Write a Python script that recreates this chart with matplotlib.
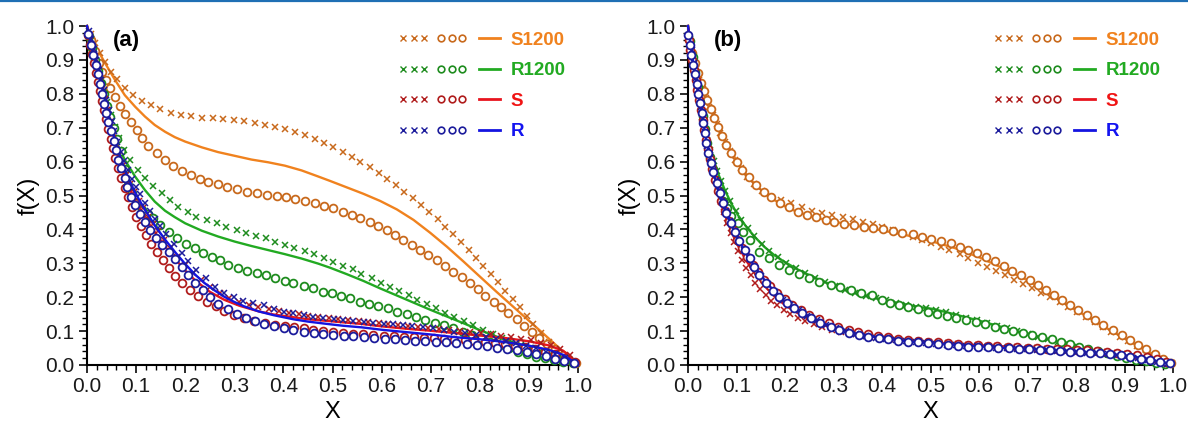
import matplotlib
matplotlib.use("Agg")
import matplotlib.pyplot as plt
from matplotlib.lines import Line2D
from matplotlib.legend_handler import HandlerTuple, HandlerLine2D
from matplotlib.ticker import MultipleLocator

plt.rcParams['font.family'] = ['Liberation Sans', 'DejaVu Sans']

SERIES = ['S1200', 'R1200', 'S', 'R']
MARKER_COLORS = {'S1200': '#c8691c', 'R1200': '#1e8c1e', 'S': '#b01c1c', 'R': '#1c1c9c'}
LINE_COLORS = {'S1200': '#f0821e', 'R1200': '#22aa22', 'S': '#e8141e', 'R': '#1414e0'}
TEXT_COLORS = {'S1200': '#f0821e', 'R1200': '#22aa22', 'S': '#f01414', 'R': '#1414f0'}

# ---------------- panel (a) ----------------
a_s1200_x_X = [0.008, 0.016, 0.026, 0.037, 0.049, 0.062, 0.077, 0.094, 0.111, 0.130, 0.149, 0.171, 0.191, 0.212, 0.234, 0.256, 0.278, 0.299, 0.320, 0.342, 0.363, 0.383, 0.403, 0.424, 0.444, 0.464, 0.483, 0.502, 0.521, 0.539, 0.557, 0.576, 0.595, 0.612, 0.629, 0.646, 0.663, 0.680, 0.697, 0.714, 0.730, 0.746, 0.762, 0.778, 0.792, 0.807, 0.822, 0.838, 0.852, 0.867, 0.881, 0.896, 0.909, 0.924, 0.940, 0.955, 0.970, 0.984]
a_s1200_x_Y = [0.975, 0.949, 0.919, 0.895, 0.865, 0.843, 0.818, 0.796, 0.780, 0.766, 0.755, 0.742, 0.737, 0.735, 0.730, 0.728, 0.727, 0.723, 0.720, 0.715, 0.709, 0.703, 0.695, 0.686, 0.677, 0.668, 0.656, 0.644, 0.629, 0.615, 0.600, 0.583, 0.567, 0.549, 0.531, 0.511, 0.492, 0.472, 0.450, 0.430, 0.408, 0.385, 0.362, 0.339, 0.317, 0.292, 0.268, 0.244, 0.219, 0.195, 0.170, 0.146, 0.121, 0.093, 0.069, 0.044, 0.025, 0.010]
a_s1200_o_X = [0.008, 0.016, 0.024, 0.031, 0.038, 0.047, 0.057, 0.067, 0.077, 0.089, 0.101, 0.113, 0.125, 0.142, 0.159, 0.176, 0.193, 0.212, 0.230, 0.247, 0.266, 0.286, 0.305, 0.325, 0.346, 0.366, 0.386, 0.405, 0.424, 0.444, 0.464, 0.483, 0.502, 0.521, 0.539, 0.557, 0.576, 0.593, 0.610, 0.627, 0.644, 0.661, 0.678, 0.695, 0.712, 0.729, 0.746, 0.763, 0.780, 0.796, 0.811, 0.828, 0.843, 0.858, 0.875, 0.891, 0.906, 0.921, 0.937, 0.953, 0.969, 0.982, 0.996]
a_s1200_o_Y = [0.960, 0.925, 0.890, 0.865, 0.841, 0.816, 0.790, 0.764, 0.740, 0.716, 0.693, 0.669, 0.646, 0.624, 0.605, 0.588, 0.573, 0.560, 0.549, 0.539, 0.533, 0.526, 0.518, 0.511, 0.506, 0.501, 0.499, 0.495, 0.489, 0.484, 0.477, 0.470, 0.462, 0.452, 0.442, 0.433, 0.423, 0.411, 0.398, 0.383, 0.369, 0.354, 0.339, 0.324, 0.310, 0.292, 0.275, 0.259, 0.241, 0.223, 0.205, 0.187, 0.170, 0.152, 0.135, 0.115, 0.098, 0.079, 0.062, 0.046, 0.029, 0.015, 0.005]
a_s1200_l_X = [0.0, 0.006, 0.016, 0.037, 0.057, 0.077, 0.098, 0.118, 0.138, 0.159, 0.179, 0.200, 0.234, 0.267, 0.301, 0.335, 0.369, 0.403, 0.437, 0.471, 0.495, 0.529, 0.563, 0.597, 0.631, 0.665, 0.699, 0.733, 0.767, 0.800, 0.834, 0.868, 0.902, 0.936, 0.970, 1.0]
a_s1200_l_Y = [1.0, 0.978, 0.944, 0.890, 0.841, 0.796, 0.762, 0.733, 0.708, 0.688, 0.672, 0.659, 0.642, 0.628, 0.617, 0.606, 0.598, 0.588, 0.574, 0.556, 0.543, 0.524, 0.505, 0.484, 0.459, 0.428, 0.390, 0.349, 0.305, 0.261, 0.216, 0.172, 0.128, 0.084, 0.039, 0.0]

a_r1200_x_X = [0.006, 0.013, 0.020, 0.026, 0.033, 0.040, 0.049, 0.057, 0.066, 0.076, 0.088, 0.103, 0.118, 0.135, 0.152, 0.169, 0.186, 0.205, 0.223, 0.244, 0.264, 0.284, 0.305, 0.324, 0.344, 0.364, 0.383, 0.403, 0.422, 0.443, 0.463, 0.483, 0.502, 0.522, 0.541, 0.559, 0.580, 0.598, 0.617, 0.636, 0.655, 0.673, 0.692, 0.711, 0.729, 0.748, 0.767, 0.787, 0.806, 0.826, 0.845, 0.865, 0.883, 0.902, 0.921, 0.940, 0.959, 0.977, 0.996]
a_r1200_x_Y = [0.960, 0.919, 0.880, 0.841, 0.806, 0.777, 0.737, 0.703, 0.669, 0.634, 0.605, 0.575, 0.551, 0.528, 0.506, 0.487, 0.467, 0.452, 0.438, 0.428, 0.418, 0.408, 0.398, 0.390, 0.381, 0.374, 0.364, 0.354, 0.346, 0.336, 0.326, 0.317, 0.305, 0.292, 0.282, 0.268, 0.256, 0.243, 0.231, 0.218, 0.206, 0.192, 0.180, 0.167, 0.154, 0.143, 0.130, 0.118, 0.103, 0.091, 0.079, 0.069, 0.059, 0.049, 0.039, 0.029, 0.020, 0.010, 0.003]
a_r1200_o_X = [0.005, 0.011, 0.017, 0.023, 0.029, 0.035, 0.041, 0.047, 0.054, 0.061, 0.069, 0.077, 0.084, 0.091, 0.100, 0.113, 0.124, 0.135, 0.149, 0.166, 0.183, 0.202, 0.220, 0.237, 0.254, 0.271, 0.288, 0.308, 0.325, 0.346, 0.365, 0.383, 0.403, 0.420, 0.441, 0.461, 0.481, 0.498, 0.517, 0.536, 0.556, 0.575, 0.593, 0.614, 0.632, 0.651, 0.670, 0.688, 0.709, 0.727, 0.746, 0.765, 0.784, 0.802, 0.821, 0.841, 0.860, 0.878, 0.896, 0.914, 0.933, 0.951, 0.970, 0.990]
a_r1200_o_Y = [0.970, 0.935, 0.900, 0.866, 0.832, 0.798, 0.765, 0.732, 0.700, 0.666, 0.630, 0.578, 0.531, 0.506, 0.479, 0.457, 0.445, 0.433, 0.413, 0.393, 0.374, 0.357, 0.344, 0.331, 0.320, 0.310, 0.295, 0.285, 0.277, 0.272, 0.265, 0.256, 0.248, 0.241, 0.233, 0.226, 0.216, 0.211, 0.204, 0.197, 0.187, 0.180, 0.174, 0.167, 0.157, 0.150, 0.141, 0.133, 0.125, 0.118, 0.108, 0.098, 0.088, 0.079, 0.069, 0.059, 0.049, 0.039, 0.032, 0.025, 0.020, 0.015, 0.010, 0.005]
a_r1200_l_X = [0.0, 0.010, 0.020, 0.030, 0.037, 0.050, 0.064, 0.077, 0.098, 0.118, 0.138, 0.159, 0.179, 0.200, 0.234, 0.267, 0.301, 0.335, 0.369, 0.403, 0.437, 0.471, 0.495, 0.529, 0.563, 0.597, 0.631, 0.665, 0.699, 0.733, 0.767, 0.800, 0.834, 0.868, 0.902, 0.936, 0.970, 1.0]
a_r1200_l_Y = [1.0, 0.935, 0.872, 0.812, 0.772, 0.693, 0.644, 0.605, 0.556, 0.516, 0.482, 0.455, 0.436, 0.418, 0.396, 0.379, 0.364, 0.351, 0.339, 0.327, 0.314, 0.299, 0.287, 0.268, 0.248, 0.226, 0.205, 0.184, 0.163, 0.143, 0.123, 0.103, 0.084, 0.066, 0.049, 0.034, 0.020, 0.0]

a_s_x_X = [0.006, 0.011, 0.016, 0.021, 0.026, 0.031, 0.036, 0.041, 0.047, 0.053, 0.059, 0.066, 0.073, 0.080, 0.088, 0.096, 0.105, 0.114, 0.124, 0.134, 0.145, 0.157, 0.170, 0.184, 0.199, 0.215, 0.232, 0.251, 0.270, 0.290, 0.309, 0.329, 0.349, 0.370, 0.391, 0.411, 0.431, 0.451, 0.471, 0.492, 0.512, 0.532, 0.553, 0.573, 0.594, 0.614, 0.634, 0.654, 0.674, 0.695, 0.716, 0.737, 0.759, 0.781, 0.802, 0.823, 0.844, 0.864, 0.884, 0.905, 0.925, 0.944, 0.964, 0.983]
a_s_x_Y = [0.971, 0.942, 0.911, 0.879, 0.847, 0.815, 0.784, 0.753, 0.717, 0.684, 0.652, 0.620, 0.589, 0.561, 0.535, 0.510, 0.485, 0.462, 0.438, 0.417, 0.394, 0.370, 0.346, 0.320, 0.296, 0.272, 0.252, 0.229, 0.212, 0.198, 0.187, 0.178, 0.170, 0.164, 0.158, 0.153, 0.149, 0.145, 0.142, 0.139, 0.136, 0.133, 0.130, 0.127, 0.124, 0.121, 0.118, 0.115, 0.112, 0.109, 0.106, 0.103, 0.100, 0.097, 0.093, 0.090, 0.087, 0.082, 0.078, 0.073, 0.066, 0.058, 0.048, 0.030]
a_s_o_X = [0.002, 0.006, 0.010, 0.014, 0.018, 0.022, 0.026, 0.030, 0.034, 0.038, 0.043, 0.048, 0.053, 0.058, 0.064, 0.070, 0.077, 0.084, 0.092, 0.100, 0.110, 0.120, 0.131, 0.142, 0.154, 0.167, 0.180, 0.194, 0.210, 0.227, 0.244, 0.262, 0.280, 0.300, 0.320, 0.341, 0.362, 0.383, 0.403, 0.422, 0.441, 0.461, 0.481, 0.502, 0.522, 0.542, 0.563, 0.583, 0.604, 0.625, 0.645, 0.666, 0.686, 0.707, 0.728, 0.748, 0.769, 0.789, 0.810, 0.830, 0.851, 0.871, 0.892, 0.912, 0.933, 0.953, 0.974, 0.994]
a_s_o_Y = [0.972, 0.945, 0.918, 0.890, 0.862, 0.835, 0.808, 0.780, 0.753, 0.726, 0.697, 0.668, 0.640, 0.612, 0.582, 0.553, 0.523, 0.495, 0.466, 0.438, 0.410, 0.384, 0.358, 0.333, 0.309, 0.285, 0.263, 0.242, 0.222, 0.203, 0.187, 0.173, 0.160, 0.148, 0.138, 0.130, 0.124, 0.119, 0.115, 0.111, 0.108, 0.104, 0.100, 0.097, 0.094, 0.092, 0.090, 0.088, 0.087, 0.085, 0.084, 0.082, 0.081, 0.079, 0.077, 0.075, 0.073, 0.071, 0.068, 0.065, 0.062, 0.057, 0.052, 0.046, 0.039, 0.032, 0.022, 0.008]
a_s_l_X = [0.0, 0.01, 0.02, 0.03, 0.04, 0.05, 0.06, 0.07, 0.08, 0.09, 0.10, 0.12, 0.14, 0.16, 0.18, 0.20, 0.22, 0.25, 0.28, 0.31, 0.35, 0.38, 0.42, 0.45, 0.49, 0.52, 0.56, 0.60, 0.65, 0.70, 0.75, 0.80, 0.85, 0.90, 0.94, 0.97, 1.0]
a_s_l_Y = [1.0, 0.935, 0.870, 0.806, 0.744, 0.684, 0.630, 0.584, 0.543, 0.510, 0.480, 0.430, 0.388, 0.348, 0.312, 0.279, 0.250, 0.216, 0.192, 0.175, 0.158, 0.149, 0.141, 0.135, 0.130, 0.126, 0.121, 0.114, 0.107, 0.101, 0.094, 0.087, 0.080, 0.070, 0.058, 0.042, 0.0]

a_r_x_X = [0.004, 0.009, 0.014, 0.019, 0.024, 0.029, 0.034, 0.039, 0.044, 0.050, 0.056, 0.062, 0.069, 0.076, 0.083, 0.091, 0.099, 0.108, 0.118, 0.128, 0.138, 0.149, 0.161, 0.177, 0.193, 0.206, 0.223, 0.242, 0.261, 0.280, 0.299, 0.318, 0.339, 0.360, 0.381, 0.401, 0.420, 0.441, 0.461, 0.481, 0.503, 0.522, 0.542, 0.564, 0.583, 0.604, 0.624, 0.644, 0.661, 0.684, 0.705, 0.727, 0.748, 0.770, 0.792, 0.813, 0.833, 0.854, 0.874, 0.894, 0.915, 0.935, 0.953, 0.974, 0.992]
a_r_x_Y = [0.985, 0.961, 0.931, 0.901, 0.871, 0.841, 0.811, 0.781, 0.751, 0.720, 0.689, 0.659, 0.628, 0.601, 0.575, 0.549, 0.526, 0.503, 0.478, 0.455, 0.432, 0.410, 0.386, 0.357, 0.330, 0.307, 0.280, 0.256, 0.230, 0.212, 0.201, 0.190, 0.182, 0.176, 0.164, 0.157, 0.152, 0.147, 0.142, 0.139, 0.135, 0.132, 0.129, 0.127, 0.124, 0.122, 0.120, 0.117, 0.115, 0.113, 0.108, 0.103, 0.098, 0.093, 0.088, 0.083, 0.078, 0.071, 0.064, 0.056, 0.049, 0.039, 0.032, 0.020, 0.007]
a_r_o_X = [0.003, 0.008, 0.013, 0.018, 0.022, 0.027, 0.031, 0.035, 0.039, 0.043, 0.048, 0.054, 0.059, 0.064, 0.070, 0.077, 0.082, 0.090, 0.098, 0.108, 0.118, 0.128, 0.140, 0.152, 0.166, 0.179, 0.193, 0.206, 0.220, 0.236, 0.251, 0.267, 0.287, 0.305, 0.324, 0.342, 0.361, 0.381, 0.401, 0.420, 0.441, 0.462, 0.481, 0.502, 0.523, 0.542, 0.564, 0.585, 0.607, 0.627, 0.648, 0.668, 0.688, 0.711, 0.731, 0.752, 0.773, 0.794, 0.814, 0.835, 0.855, 0.875, 0.896, 0.915, 0.935, 0.953, 0.972, 0.992]
a_r_o_Y = [0.975, 0.944, 0.914, 0.885, 0.858, 0.829, 0.800, 0.770, 0.744, 0.718, 0.691, 0.662, 0.634, 0.605, 0.580, 0.551, 0.524, 0.497, 0.472, 0.445, 0.423, 0.398, 0.374, 0.354, 0.333, 0.312, 0.290, 0.266, 0.243, 0.221, 0.201, 0.181, 0.164, 0.150, 0.139, 0.130, 0.122, 0.116, 0.108, 0.103, 0.098, 0.095, 0.091, 0.089, 0.087, 0.085, 0.083, 0.081, 0.078, 0.076, 0.074, 0.072, 0.071, 0.069, 0.067, 0.064, 0.061, 0.059, 0.056, 0.051, 0.047, 0.044, 0.039, 0.032, 0.026, 0.019, 0.013, 0.007]
a_r_l_X = [0.0, 0.01, 0.02, 0.03, 0.04, 0.05, 0.06, 0.07, 0.08, 0.09, 0.10, 0.12, 0.14, 0.16, 0.18, 0.20, 0.22, 0.24, 0.26, 0.28, 0.30, 0.32, 0.35, 0.38, 0.42, 0.45, 0.49, 0.52, 0.56, 0.60, 0.65, 0.70, 0.75, 0.80, 0.85, 0.90, 0.94, 0.97, 1.0]
a_r_l_Y = [1.0, 0.94, 0.88, 0.82, 0.76, 0.70, 0.648, 0.604, 0.565, 0.532, 0.503, 0.453, 0.408, 0.368, 0.332, 0.298, 0.267, 0.241, 0.220, 0.201, 0.186, 0.173, 0.158, 0.147, 0.135, 0.128, 0.121, 0.116, 0.111, 0.104, 0.097, 0.090, 0.082, 0.076, 0.068, 0.057, 0.045, 0.030, 0.0]

# ---------------- panel (b) ----------------
b_s1200_x_X = [0.006, 0.011, 0.017, 0.023, 0.030, 0.037, 0.044, 0.051, 0.059, 0.067, 0.076, 0.086, 0.097, 0.109, 0.122, 0.136, 0.152, 0.172, 0.192, 0.213, 0.236, 0.256, 0.277, 0.297, 0.320, 0.340, 0.361, 0.381, 0.401, 0.422, 0.442, 0.463, 0.482, 0.500, 0.521, 0.539, 0.560, 0.578, 0.597, 0.616, 0.635, 0.653, 0.672, 0.691, 0.709, 0.728, 0.747, 0.766, 0.784, 0.803, 0.821, 0.839, 0.856, 0.873, 0.890, 0.908, 0.926, 0.944, 0.962, 0.980, 0.998]
b_s1200_x_Y = [0.940, 0.905, 0.872, 0.842, 0.815, 0.788, 0.762, 0.736, 0.710, 0.684, 0.658, 0.632, 0.606, 0.580, 0.556, 0.533, 0.513, 0.497, 0.487, 0.477, 0.465, 0.455, 0.449, 0.442, 0.436, 0.430, 0.423, 0.416, 0.408, 0.398, 0.388, 0.379, 0.369, 0.361, 0.349, 0.339, 0.326, 0.315, 0.302, 0.288, 0.278, 0.265, 0.251, 0.239, 0.226, 0.213, 0.200, 0.185, 0.170, 0.155, 0.141, 0.126, 0.111, 0.098, 0.084, 0.071, 0.056, 0.044, 0.029, 0.017, 0.005]
b_s1200_o_X = [0.009, 0.014, 0.020, 0.027, 0.033, 0.040, 0.047, 0.054, 0.062, 0.070, 0.079, 0.089, 0.100, 0.111, 0.125, 0.140, 0.156, 0.172, 0.190, 0.209, 0.226, 0.245, 0.263, 0.284, 0.302, 0.322, 0.342, 0.362, 0.382, 0.403, 0.423, 0.442, 0.463, 0.482, 0.502, 0.522, 0.543, 0.560, 0.577, 0.596, 0.614, 0.633, 0.652, 0.669, 0.686, 0.705, 0.721, 0.739, 0.755, 0.771, 0.788, 0.805, 0.822, 0.839, 0.856, 0.876, 0.894, 0.911, 0.928, 0.945, 0.962, 0.979, 0.996]
b_s1200_o_Y = [0.919, 0.890, 0.860, 0.833, 0.808, 0.782, 0.754, 0.728, 0.701, 0.676, 0.649, 0.624, 0.600, 0.575, 0.554, 0.531, 0.511, 0.495, 0.479, 0.465, 0.452, 0.442, 0.436, 0.428, 0.423, 0.416, 0.413, 0.408, 0.403, 0.400, 0.396, 0.390, 0.386, 0.379, 0.373, 0.367, 0.359, 0.349, 0.339, 0.329, 0.318, 0.307, 0.292, 0.278, 0.265, 0.251, 0.236, 0.221, 0.207, 0.192, 0.177, 0.162, 0.147, 0.132, 0.118, 0.103, 0.088, 0.074, 0.059, 0.046, 0.032, 0.017, 0.005]
b_s1200_l_X = [0.0, 0.01, 0.02, 0.03, 0.04, 0.05, 0.06, 0.07, 0.08, 0.09, 0.10, 0.12, 0.14, 0.16, 0.18, 0.20, 0.22, 0.25, 0.28, 0.30, 0.35, 0.40, 0.45, 0.50, 0.55, 0.60, 0.65, 0.70, 0.75, 0.80, 0.85, 0.90, 0.95, 1.0]
b_s1200_l_Y = [1.0, 0.92, 0.865, 0.82, 0.78, 0.745, 0.712, 0.682, 0.653, 0.627, 0.603, 0.562, 0.530, 0.505, 0.485, 0.468, 0.455, 0.440, 0.429, 0.423, 0.410, 0.397, 0.383, 0.366, 0.345, 0.318, 0.285, 0.250, 0.205, 0.162, 0.120, 0.078, 0.038, 0.0]

b_r1200_x_X = [0.004, 0.009, 0.014, 0.019, 0.024, 0.029, 0.034, 0.040, 0.046, 0.053, 0.060, 0.068, 0.077, 0.087, 0.098, 0.110, 0.123, 0.137, 0.152, 0.168, 0.185, 0.203, 0.222, 0.242, 0.262, 0.283, 0.303, 0.324, 0.345, 0.366, 0.387, 0.408, 0.428, 0.449, 0.470, 0.490, 0.511, 0.532, 0.553, 0.574, 0.595, 0.616, 0.637, 0.658, 0.679, 0.700, 0.721, 0.742, 0.762, 0.783, 0.804, 0.825, 0.846, 0.866, 0.887, 0.908, 0.929, 0.950, 0.970, 0.990]
b_r1200_x_Y = [0.962, 0.915, 0.868, 0.820, 0.775, 0.733, 0.699, 0.665, 0.634, 0.602, 0.573, 0.544, 0.514, 0.483, 0.454, 0.428, 0.403, 0.380, 0.358, 0.337, 0.318, 0.302, 0.286, 0.272, 0.258, 0.245, 0.233, 0.222, 0.213, 0.205, 0.198, 0.191, 0.184, 0.178, 0.172, 0.167, 0.161, 0.155, 0.148, 0.140, 0.132, 0.124, 0.116, 0.108, 0.100, 0.092, 0.084, 0.076, 0.069, 0.061, 0.053, 0.046, 0.038, 0.031, 0.024, 0.018, 0.013, 0.008, 0.005, 0.002]
b_r1200_o_X = [0.005, 0.010, 0.015, 0.020, 0.025, 0.030, 0.035, 0.040, 0.046, 0.052, 0.058, 0.065, 0.072, 0.080, 0.089, 0.103, 0.113, 0.127, 0.147, 0.168, 0.188, 0.209, 0.229, 0.249, 0.270, 0.294, 0.314, 0.337, 0.357, 0.379, 0.399, 0.417, 0.435, 0.454, 0.474, 0.494, 0.514, 0.535, 0.553, 0.573, 0.594, 0.612, 0.633, 0.651, 0.671, 0.691, 0.709, 0.730, 0.751, 0.769, 0.788, 0.807, 0.825, 0.846, 0.864, 0.884, 0.904, 0.923, 0.944, 0.964, 0.983]
b_r1200_o_Y = [0.955, 0.910, 0.865, 0.820, 0.775, 0.735, 0.695, 0.655, 0.615, 0.578, 0.545, 0.512, 0.485, 0.462, 0.440, 0.418, 0.393, 0.369, 0.334, 0.315, 0.295, 0.280, 0.268, 0.256, 0.246, 0.236, 0.229, 0.221, 0.211, 0.206, 0.192, 0.184, 0.177, 0.170, 0.164, 0.157, 0.150, 0.145, 0.140, 0.133, 0.126, 0.121, 0.113, 0.106, 0.101, 0.093, 0.088, 0.083, 0.076, 0.069, 0.062, 0.054, 0.047, 0.041, 0.034, 0.027, 0.022, 0.014, 0.011, 0.007, 0.004]
b_r1200_l_X = [0.0, 0.01, 0.02, 0.03, 0.035, 0.048, 0.062, 0.076, 0.089, 0.103, 0.120, 0.137, 0.157, 0.178, 0.198, 0.226, 0.253, 0.280, 0.307, 0.335, 0.362, 0.389, 0.417, 0.444, 0.471, 0.502, 0.529, 0.597, 0.665, 0.734, 0.802, 0.870, 0.938, 1.0]
b_r1200_l_Y = [1.0, 0.905, 0.81, 0.725, 0.693, 0.624, 0.565, 0.516, 0.477, 0.442, 0.408, 0.379, 0.349, 0.324, 0.305, 0.282, 0.263, 0.246, 0.231, 0.216, 0.206, 0.197, 0.187, 0.179, 0.172, 0.166, 0.157, 0.132, 0.105, 0.079, 0.054, 0.029, 0.010, 0.0]

b_s_x_X = [0.004, 0.008, 0.012, 0.016, 0.020, 0.024, 0.028, 0.032, 0.036, 0.041, 0.046, 0.051, 0.056, 0.062, 0.068, 0.074, 0.081, 0.088, 0.095, 0.103, 0.111, 0.120, 0.129, 0.139, 0.149, 0.160, 0.172, 0.184, 0.197, 0.211, 0.226, 0.242, 0.259, 0.277, 0.296, 0.316, 0.336, 0.356, 0.376, 0.396, 0.416, 0.436, 0.456, 0.476, 0.496, 0.516, 0.536, 0.556, 0.577, 0.597, 0.618, 0.638, 0.659, 0.679, 0.700, 0.720, 0.741, 0.761, 0.782, 0.802, 0.823, 0.843, 0.864, 0.884, 0.905, 0.925, 0.946, 0.966, 0.986]
b_s_x_Y = [0.950, 0.915, 0.880, 0.847, 0.814, 0.782, 0.750, 0.719, 0.688, 0.650, 0.614, 0.580, 0.548, 0.512, 0.480, 0.450, 0.418, 0.390, 0.364, 0.336, 0.311, 0.287, 0.265, 0.243, 0.225, 0.207, 0.190, 0.176, 0.162, 0.150, 0.139, 0.129, 0.120, 0.112, 0.104, 0.097, 0.092, 0.087, 0.083, 0.080, 0.077, 0.075, 0.072, 0.070, 0.068, 0.066, 0.064, 0.062, 0.060, 0.058, 0.057, 0.055, 0.054, 0.052, 0.051, 0.049, 0.048, 0.046, 0.045, 0.043, 0.041, 0.039, 0.037, 0.034, 0.031, 0.027, 0.022, 0.015, 0.007]
b_s_o_X = [0.002, 0.005, 0.009, 0.012, 0.016, 0.019, 0.023, 0.026, 0.030, 0.033, 0.037, 0.041, 0.045, 0.050, 0.056, 0.062, 0.069, 0.076, 0.084, 0.093, 0.102, 0.112, 0.122, 0.133, 0.144, 0.157, 0.170, 0.184, 0.199, 0.215, 0.232, 0.250, 0.270, 0.290, 0.310, 0.331, 0.351, 0.372, 0.392, 0.413, 0.433, 0.454, 0.474, 0.495, 0.515, 0.536, 0.556, 0.577, 0.597, 0.618, 0.638, 0.659, 0.679, 0.700, 0.720, 0.741, 0.761, 0.782, 0.802, 0.823, 0.843, 0.864, 0.884, 0.905, 0.925, 0.946, 0.966, 0.986]
b_s_o_Y = [0.960, 0.930, 0.900, 0.870, 0.840, 0.811, 0.781, 0.752, 0.723, 0.694, 0.664, 0.636, 0.607, 0.577, 0.545, 0.514, 0.484, 0.455, 0.426, 0.398, 0.370, 0.344, 0.320, 0.296, 0.274, 0.252, 0.232, 0.213, 0.195, 0.178, 0.163, 0.148, 0.135, 0.123, 0.113, 0.104, 0.097, 0.091, 0.086, 0.082, 0.078, 0.075, 0.072, 0.069, 0.067, 0.065, 0.062, 0.060, 0.058, 0.057, 0.055, 0.054, 0.052, 0.051, 0.050, 0.048, 0.047, 0.046, 0.045, 0.043, 0.041, 0.039, 0.036, 0.033, 0.029, 0.024, 0.017, 0.009]
b_s_l_X = [0.0, 0.01, 0.02, 0.03, 0.04, 0.05, 0.06, 0.07, 0.08, 0.09, 0.10, 0.12, 0.14, 0.16, 0.18, 0.20, 0.22, 0.25, 0.28, 0.30, 0.35, 0.40, 0.45, 0.50, 0.55, 0.60, 0.65, 0.70, 0.75, 0.80, 0.85, 0.90, 0.95, 1.0]
b_s_l_Y = [1.0, 0.895, 0.80, 0.715, 0.632, 0.565, 0.512, 0.468, 0.428, 0.392, 0.360, 0.308, 0.266, 0.230, 0.200, 0.177, 0.158, 0.136, 0.118, 0.108, 0.090, 0.079, 0.072, 0.066, 0.062, 0.058, 0.055, 0.051, 0.048, 0.045, 0.040, 0.034, 0.024, 0.0]

b_r_x_X = [0.003, 0.008, 0.012, 0.017, 0.021, 0.026, 0.030, 0.035, 0.040, 0.045, 0.051, 0.057, 0.064, 0.071, 0.079, 0.087, 0.096, 0.106, 0.116, 0.127, 0.139, 0.151, 0.165, 0.179, 0.195, 0.211, 0.228, 0.246, 0.265, 0.285, 0.305, 0.326, 0.346, 0.367, 0.388, 0.408, 0.429, 0.450, 0.470, 0.491, 0.512, 0.533, 0.553, 0.574, 0.595, 0.616, 0.636, 0.657, 0.678, 0.699, 0.719, 0.740, 0.761, 0.782, 0.802, 0.823, 0.844, 0.865, 0.885, 0.906, 0.927, 0.948, 0.968, 0.988]
b_r_x_Y = [0.970, 0.928, 0.892, 0.847, 0.812, 0.760, 0.728, 0.686, 0.645, 0.612, 0.575, 0.545, 0.513, 0.484, 0.454, 0.425, 0.395, 0.365, 0.339, 0.313, 0.287, 0.262, 0.238, 0.214, 0.193, 0.176, 0.161, 0.146, 0.132, 0.119, 0.108, 0.099, 0.091, 0.086, 0.081, 0.078, 0.074, 0.070, 0.067, 0.065, 0.062, 0.060, 0.058, 0.056, 0.055, 0.053, 0.051, 0.050, 0.048, 0.047, 0.045, 0.044, 0.042, 0.040, 0.038, 0.036, 0.034, 0.032, 0.030, 0.026, 0.021, 0.016, 0.010, 0.004]
b_r_o_X = [0.0, 0.004, 0.007, 0.011, 0.014, 0.018, 0.021, 0.025, 0.028, 0.031, 0.035, 0.038, 0.042, 0.047, 0.052, 0.059, 0.065, 0.072, 0.079, 0.088, 0.096, 0.106, 0.117, 0.127, 0.137, 0.147, 0.161, 0.175, 0.188, 0.204, 0.219, 0.236, 0.253, 0.273, 0.294, 0.311, 0.331, 0.352, 0.372, 0.393, 0.413, 0.434, 0.454, 0.474, 0.495, 0.515, 0.536, 0.556, 0.577, 0.597, 0.619, 0.640, 0.662, 0.683, 0.703, 0.726, 0.746, 0.766, 0.788, 0.809, 0.829, 0.850, 0.870, 0.892, 0.912, 0.933, 0.953, 0.974, 0.993]
b_r_o_Y = [0.973, 0.944, 0.914, 0.885, 0.857, 0.829, 0.799, 0.772, 0.742, 0.713, 0.683, 0.654, 0.626, 0.597, 0.570, 0.538, 0.506, 0.479, 0.449, 0.420, 0.393, 0.367, 0.339, 0.315, 0.290, 0.265, 0.241, 0.219, 0.202, 0.182, 0.167, 0.152, 0.140, 0.125, 0.113, 0.103, 0.095, 0.088, 0.084, 0.079, 0.076, 0.072, 0.069, 0.067, 0.064, 0.062, 0.059, 0.056, 0.054, 0.054, 0.052, 0.051, 0.049, 0.047, 0.046, 0.044, 0.044, 0.042, 0.039, 0.039, 0.036, 0.034, 0.032, 0.029, 0.024, 0.019, 0.015, 0.010, 0.005]
b_r_l_X = [0.0, 0.01, 0.02, 0.03, 0.04, 0.05, 0.06, 0.07, 0.08, 0.09, 0.10, 0.12, 0.14, 0.16, 0.18, 0.20, 0.22, 0.25, 0.28, 0.30, 0.35, 0.40, 0.45, 0.50, 0.55, 0.60, 0.65, 0.70, 0.75, 0.80, 0.85, 0.90, 0.95, 1.0]
b_r_l_Y = [1.0, 0.90, 0.81, 0.728, 0.645, 0.580, 0.530, 0.488, 0.450, 0.414, 0.382, 0.328, 0.285, 0.246, 0.213, 0.187, 0.167, 0.143, 0.122, 0.110, 0.091, 0.079, 0.070, 0.064, 0.059, 0.055, 0.050, 0.047, 0.044, 0.039, 0.034, 0.028, 0.017, 0.0]

PANELS = {
    '(a)': {
        'S1200': (a_s1200_x_X, a_s1200_x_Y, a_s1200_o_X, a_s1200_o_Y, a_s1200_l_X, a_s1200_l_Y),
        'R1200': (a_r1200_x_X, a_r1200_x_Y, a_r1200_o_X, a_r1200_o_Y, a_r1200_l_X, a_r1200_l_Y),
        'S': (a_s_x_X, a_s_x_Y, a_s_o_X, a_s_o_Y, a_s_l_X, a_s_l_Y),
        'R': (a_r_x_X, a_r_x_Y, a_r_o_X, a_r_o_Y, a_r_l_X, a_r_l_Y),
    },
    '(b)': {
        'S1200': (b_s1200_x_X, b_s1200_x_Y, b_s1200_o_X, b_s1200_o_Y, b_s1200_l_X, b_s1200_l_Y),
        'R1200': (b_r1200_x_X, b_r1200_x_Y, b_r1200_o_X, b_r1200_o_Y, b_r1200_l_X, b_r1200_l_Y),
        'S': (b_s_x_X, b_s_x_Y, b_s_o_X, b_s_o_Y, b_s_l_X, b_s_l_Y),
        'R': (b_r_x_X, b_r_x_Y, b_r_o_X, b_r_o_Y, b_r_l_X, b_r_l_Y),
    },
}


def draw_panel(ax, tag, data):
    z = 2
    for name in SERIES:
        xx, xy, ox, oy, lx, ly = data[name]
        mc = MARKER_COLORS[name]
        ax.plot(lx, ly, color=LINE_COLORS[name], lw=1.7, zorder=z, clip_on=False)
        ax.plot(xx, xy, ls='none', marker='x', ms=4.2, mew=1.1, color=mc, zorder=z + 1, clip_on=False)
        ax.plot(ox, oy, ls='none', marker='o', ms=5.6, mew=1.3, mec=mc, mfc='white', zorder=z + 2, clip_on=False)
        z += 3

    ax.set_xlim(0, 1)
    ax.set_ylim(0, 1)
    ax.xaxis.set_major_locator(MultipleLocator(0.1))
    ax.yaxis.set_major_locator(MultipleLocator(0.1))
    ax.xaxis.set_minor_locator(MultipleLocator(0.02))
    ax.yaxis.set_minor_locator(MultipleLocator(0.02))
    ax.xaxis.set_major_formatter(lambda v, p: f'{v:.1f}')
    ax.yaxis.set_major_formatter(lambda v, p: f'{v:.1f}')
    for s in ('top', 'right'):
        ax.spines[s].set_visible(False)
    for s in ('left', 'bottom'):
        ax.spines[s].set_linewidth(1.5)
    ax.tick_params(which='major', direction='out', length=6, width=1.3, labelsize=15, pad=3, colors='#1a1a1a')
    ax.tick_params(which='minor', direction='out', length=3.5, width=1.0)
    ax.set_xlabel('X', fontsize=17, labelpad=3)
    ax.set_ylabel('f(X)', fontsize=17, labelpad=4)
    ax.text(0.053, 0.958, tag, transform=ax.transAxes, fontsize=16, fontweight='bold', va='center', ha='left')

    handles = []
    for name in SERIES:
        mc = MARKER_COLORS[name]
        hx = Line2D([], [], ls='none', marker='x', ms=3.8, mew=1.0, color=mc)
        ho = Line2D([], [], ls='none', marker='o', ms=4.8, mew=1.2, mec=mc, mfc='white')
        hl = Line2D([], [], color=LINE_COLORS[name], lw=2.0)
        handles.append((hx, ho, hl))
    leg = ax.legend(handles, SERIES,
                    handler_map={tuple: HandlerTuple(ndivide=None, pad=0.64),
                                 Line2D: HandlerLine2D(marker_pad=0.12)},
                    numpoints=3, handlelength=5.4, handletextpad=0.45, labelspacing=0.71,
                    loc='upper right', bbox_to_anchor=(0.99, 1.005), borderaxespad=0.0,
                    frameon=False, prop={'weight': 'bold', 'size': 13.5})
    for t, name in zip(leg.get_texts(), SERIES):
        t.set_color(TEXT_COLORS[name])


fig = plt.figure(figsize=(11.88, 4.25), dpi=100)
ax_a = fig.add_axes([87 / 1188, 60 / 425, 491 / 1188, 339 / 425])
# panel (b) ends a few pixels short of the edge so its last tick label fits
ax_b = fig.add_axes([688 / 1188, 60 / 425, 485 / 1188, 339 / 425])
draw_panel(ax_a, '(a)', PANELS['(a)'])
draw_panel(ax_b, '(b)', PANELS['(b)'])

# thin blue rule along the top edge, as on the page
fig.add_artist(Line2D([0, 1], [0.998, 0.998], transform=fig.transFigure, color='#1f6fb4', lw=1.6))

fig.savefig('out.png', dpi=100)
